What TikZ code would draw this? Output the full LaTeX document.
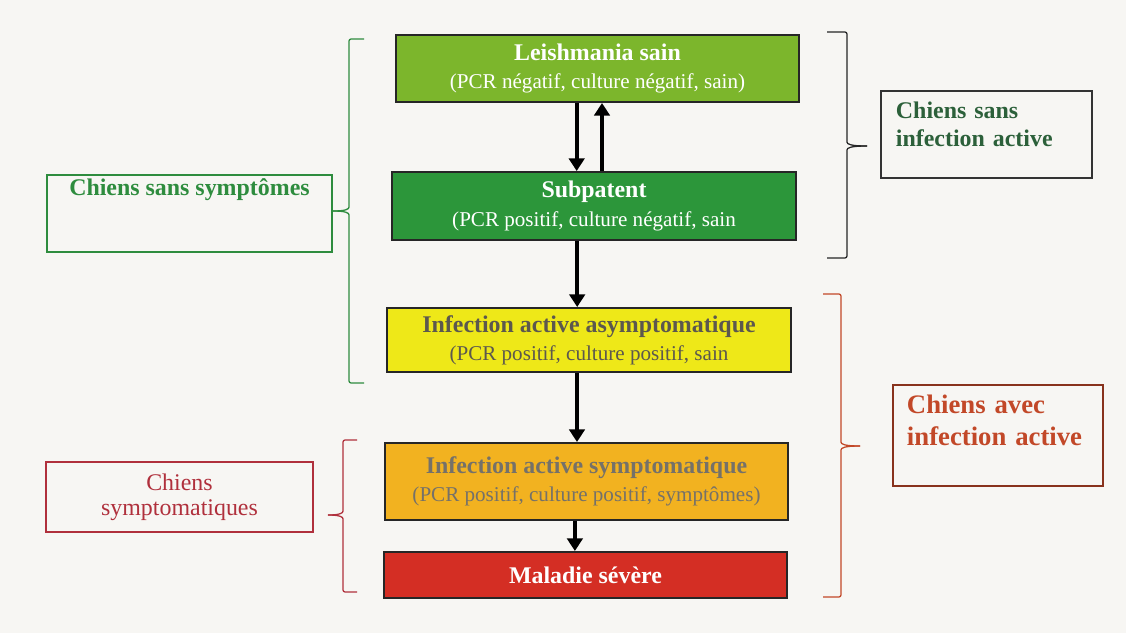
\documentclass[tikz,border=0pt]{standalone}
\usepackage{fontspec}
\setmainfont{Liberation Serif}
\usepackage{xcolor}
\usetikzlibrary{arrows.meta}

\definecolor{paper}{RGB}{247,246,243}
\definecolor{sainGreen}{RGB}{124,182,44}
\definecolor{subGreen}{RGB}{44,150,58}
\definecolor{asymYellow}{RGB}{238,232,24}
\definecolor{sympOrange}{RGB}{242,178,32}
\definecolor{severeRed}{RGB}{212,46,36}
\definecolor{lblGreen}{RGB}{46,140,62}
\definecolor{darkGreen}{RGB}{44,96,58}
\definecolor{lblRed}{RGB}{176,48,60}
\definecolor{lblOrange}{RGB}{194,72,40}
\definecolor{greyText}{RGB}{92,88,78}

\begin{document}
\begin{tikzpicture}[x=0.025cm, y=-0.025cm,
  stage/.style={draw=black!85, line width=1.4pt, minimum width=10.08cm, inner sep=0pt, align=center, font=\fontsize{15}{20}\selectfont},
  side/.style={line width=1pt, inner sep=0pt, font=\fontsize{17}{20.6}\selectfont\bfseries},
  flow/.style={line width=3pt, -{Triangle[width=11pt,length=9pt]}},
  bracket/.style={line width=0.9pt, rounded corners=1.5pt},
]
\fill[paper] (0,0) rectangle (1126,633);

% stages of the infection
\node[stage, fill=sainGreen, text=white, minimum height=1.675cm] (sain) at (597.5,68.5) {{\fontsize{17}{20}\selectfont\bfseries Leishmania sain}\\(PCR négatif, culture négatif, sain)};
\node[stage, fill=subGreen, text=white, minimum height=1.7cm] (subp) at (594,206) {{\fontsize{17}{20}\selectfont\bfseries Subpatent}\\(PCR positif, culture négatif, sain};
\node[stage, fill=asymYellow, text=greyText, minimum height=1.6cm] (asym) at (589,340) {{\fontsize{17}{20}\selectfont\bfseries Infection active asymptomatique}\\(PCR positif, culture positif, sain};
\node[stage, fill=sympOrange, text=greyText!85, minimum height=1.925cm] (symp) at (586.5,481.5) {{\fontsize{17}{20}\selectfont\bfseries Infection active symptomatique}\\(PCR positif, culture positif, symptômes)};
\node[stage, fill=severeRed, text=white, minimum height=1.15cm] (severe) at (585.5,575) {{\fontsize{17}{20}\selectfont\bfseries Maladie sévère}};

\draw[flow] ([xshift=-0.52cm]sain.south) -- ([xshift=-0.52cm]sain.south |- subp.north);
\draw[flow] ([xshift=0.2cm]subp.north) -- ([xshift=0.2cm]subp.north |- sain.south);
\draw[flow] ([xshift=-0.42cm]subp.south) -- ([xshift=-0.42cm]subp.south |- asym.north);
\draw[flow] ([xshift=-0.3cm]asym.south) -- ([xshift=-0.3cm]asym.south |- symp.north);
\draw[flow] ([xshift=-0.29cm]symp.south) -- ([xshift=-0.29cm]symp.south |- severe.north);

% groups on the left
\node[side, draw=lblGreen, text=lblGreen, minimum width=7.125cm, text height=0.5cm, text depth=1.425cm] (noSympt) at (189.5,213.5) {Chiens sans symptômes};
\node[side, draw=lblRed, text=lblRed, minimum width=6.675cm, minimum height=1.75cm, align=center, font=\fontsize{17}{18}\selectfont\mdseries] (sympt) at (179.5,497) {Chiens\\symptomatiques};

% groups on the right
\node[side, draw=black!80, text=darkGreen, align=left, text width=4.525cm, inner xsep=0.375cm, text height=0.675cm, text depth=1.5cm] (noInf) at (986.5,134.5) {Chiens sans\\infection active};
\node[side, draw=lblOrange!70!black, text=lblOrange, align=left, text width=4.55cm, inner xsep=0.35cm, text height=0.7cm, text depth=1.825cm, font=\fontsize{19}{22.8}\selectfont\bfseries] (withInf) at (998,435.5) {Chiens avec\\infection active};

% brackets
\coordinate (gTip) at (333,211);
\coordinate (rTip) at (328,515);
\coordinate (kTip) at (867,146);
\coordinate (oTip) at (860,446);
\draw[bracket, lblGreen] (364,39) -- (349,39) -- (349,205) .. controls (349,209) and (346,211) .. (gTip);
\draw[bracket, lblGreen] (364,383) -- (349,383) -- (349,217) .. controls (349,213) and (346,211) .. (gTip);
\draw[bracket, lblRed] (357,440) -- (343,440) -- (343,509) .. controls (343,513) and (340,515) .. (rTip);
\draw[bracket, lblRed] (357,592) -- (343,592) -- (343,521) .. controls (343,517) and (340,515) .. (rTip);
\draw[bracket, black!85] (827,32) -- (847,32) -- (847,140) .. controls (847,144) and (850,146) .. (kTip);
\draw[bracket, black!85] (827,258) -- (847,258) -- (847,152) .. controls (847,148) and (850,146) .. (kTip);
\draw[bracket, lblOrange] (823,294) -- (841,294) -- (841,440) .. controls (841,444) and (844,446) .. (oTip);
\draw[bracket, lblOrange] (823,597) -- (841,597) -- (841,452) .. controls (841,448) and (844,446) .. (oTip);
\end{tikzpicture}
\end{document}
